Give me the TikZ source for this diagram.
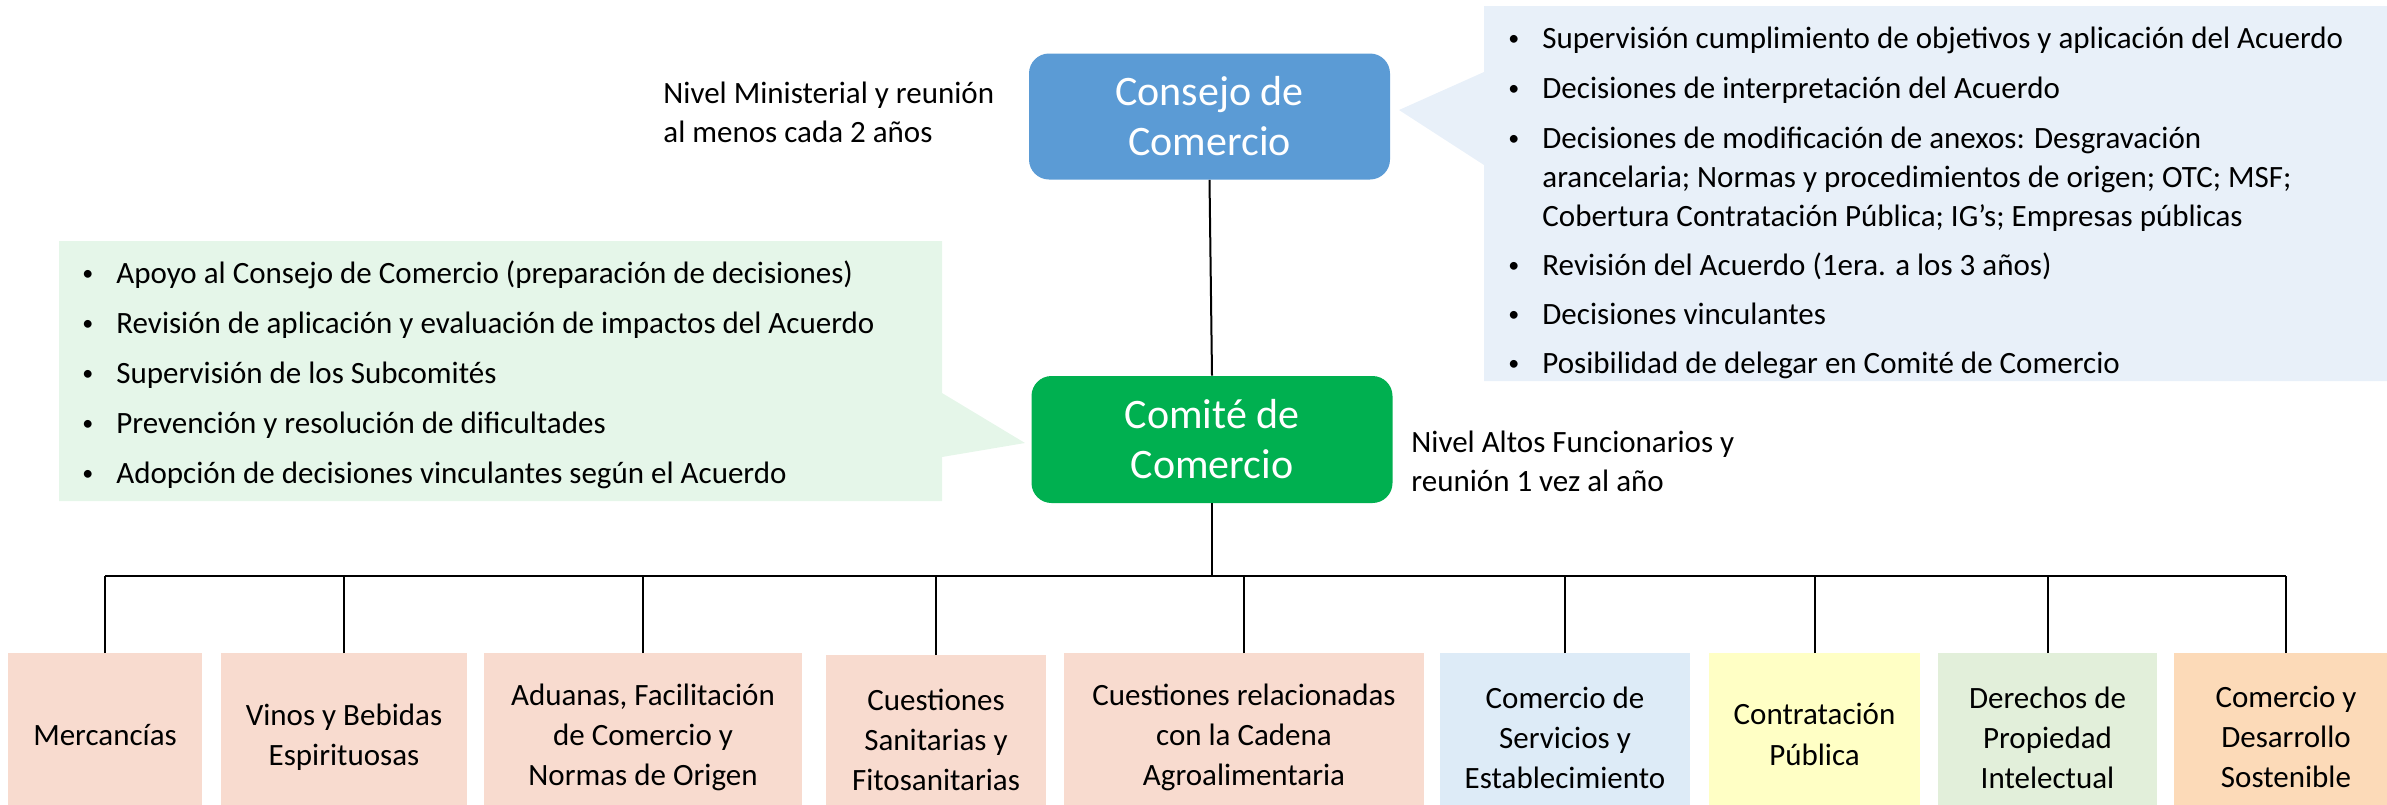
\documentclass[tikz,border=0pt]{standalone}
\usepackage{fontspec}
\setmainfont{Carlito}
\usepackage{array}
\definecolor{consejoblue}{HTML}{5B9BD5}
\definecolor{comitegreen}{HTML}{00B050}
\definecolor{callgreen}{HTML}{E5F6E9}
\definecolor{callblue}{HTML}{E8F0F9}
\definecolor{salmon}{HTML}{F8DBCF}
\definecolor{lblue}{HTML}{DDEBF7}
\definecolor{lyellow}{HTML}{FFFFC5}
\definecolor{lgreen}{HTML}{E2EFDA}
\definecolor{lorange}{HTML}{FCDAB8}
\newcommand{\smbul}{\raisebox{1.3pt}{\fontsize{11}{12}\selectfont •}}
\begin{document}
\begin{tikzpicture}[x=0.5pt,y=-0.5pt,
  titlebox/.style={rounded corners=10pt, minimum width=180.5pt, minimum height=63pt, text=white, align=center, font=\fontsize{21}{25}\selectfont, inner sep=0pt},
  subbox/.style={anchor=north, minimum height=84pt, inner sep=0pt, align=center, font=\fontsize{15.5}{20}\selectfont},
  conn/.style={line width=1pt, black},
  note/.style={anchor=base west, inner sep=0pt, font=\fontsize{15.5}{19.5}\selectfont}]
\useasboundingbox (0,0) rectangle (2387,804);
\clip (0,0) rectangle (2387,804);

% callouts
\fill[callgreen] (59,241) -- (942,241) -- (942,393) -- (1025,443) -- (942,457) -- (942,501) -- (59,501) -- cycle;
\fill[callblue] (1484,6) -- (2400,6) -- (2400,381) -- (1484,381) -- (1484,165) -- (1399,110) -- (1484,72) -- cycle;

% main boxes
\node[titlebox, fill=consejoblue] (consejo) at (1209.5,116.5) {Consejo de\\Comercio};
\node[titlebox, fill=comitegreen, minimum height=63.5pt] (comite) at (1212,439.5) {Comité de\\Comercio};

% side notes
\node[note] (nivelmin) at (663,103) {\begin{tabular}[t]{@{}l@{}}Nivel Ministerial y reunión\\ al menos cada 2 años\end{tabular}};
\node[note] (nivelalt) at (1411,452) {\begin{tabular}[t]{@{}l@{}}Nivel Altos Funcionarios y\\ reunión 1 vez al año\end{tabular}};

\node[note] (gnote) at (82,283) {\begin{tabular}[t]{@{}p{17pt}@{}l@{}}
\smbul & Apoyo al Consejo de Comercio (preparación de decisiones)\\[5.5pt]
\smbul & Revisión de aplicación y evaluación de impactos del Acuerdo\\[5.5pt]
\smbul & Supervisión de los Subcomités\\[5.5pt]
\smbul & Prevención y resolución de dificultades\\[5.5pt]
\smbul & Adopción de decisiones vinculantes según el Acuerdo
\end{tabular}};

\node[note] (bnote) at (1508,48) {\begin{tabular}[t]{@{}p{17pt}@{}l@{}}
\smbul & Supervisión cumplimiento de objetivos y aplicación del Acuerdo\\[5.5pt]
\smbul & Decisiones de interpretación del Acuerdo\\[5.5pt]
\smbul & Decisiones de modificación de anexos: Desgravación\\
  & arancelaria; Normas y procedimientos de origen; OTC; MSF;\\
  & Cobertura Contratación Pública; IG’s; Empresas públicas\\[5pt]
\smbul & Revisión del Acuerdo (1era. a los 3 años)\\[5pt]
\smbul & Decisiones vinculantes\\[5pt]
\smbul & Posibilidad de delegar en Comité de Comercio
\end{tabular}};

% subcommittees
\node[subbox, fill=salmon, minimum width=97pt, text depth=0pt] (b1) at (105,653) {\raisebox{3pt}{Mercancías}};
\node[subbox, fill=salmon, minimum width=123pt] (b2) at (344,653) {Vinos y Bebidas\\Espirituosas};
\node[subbox, fill=salmon, minimum width=159pt] (b3) at (643,653) {Aduanas, Facilitación\\de Comercio y\\Normas de Origen};
\node[subbox, fill=salmon, minimum width=110pt] (b4) at (936,655) {Cuestiones\\Sanitarias y\\Fitosanitarias};
\node[subbox, fill=salmon, minimum width=180pt] (b5) at (1244,653) {Cuestiones relacionadas\\con la Cadena\\Agroalimentaria};
\node[subbox, fill=lblue, minimum width=125pt] (b6) at (1565,653) {Comercio de\\Servicios y\\Establecimiento};
\node[subbox, fill=lyellow, minimum width=105.5pt] (b7) at (1814.5,653) {\raisebox{2pt}{\begin{tabular}{@{}c@{}}Contratación\\[0.5pt] Pública\end{tabular}}};
\node[subbox, fill=lgreen, minimum width=109.5pt] (b8) at (2047.5,653) {Derechos de\\Propiedad\\Intelectual};
\node[subbox, fill=lorange, minimum width=112pt] (b9) at (2286,653) {Comercio y\\Desarrollo\\Sostenible};

% connectors
\coordinate (bus) at (1210,576);
\draw[conn] (consejo.south) -- (comite.north);
\draw[conn] (comite.south) -- (comite.south |- bus);
\draw[conn, line width=1.3pt] (b1.north |- bus) -- (b9.north |- bus);
\foreach \b in {b1,b2,b3,b4,b5,b6,b7,b8,b9}
  \draw[conn] (\b.north) -- (\b.north |- bus);
\end{tikzpicture}
\end{document}
